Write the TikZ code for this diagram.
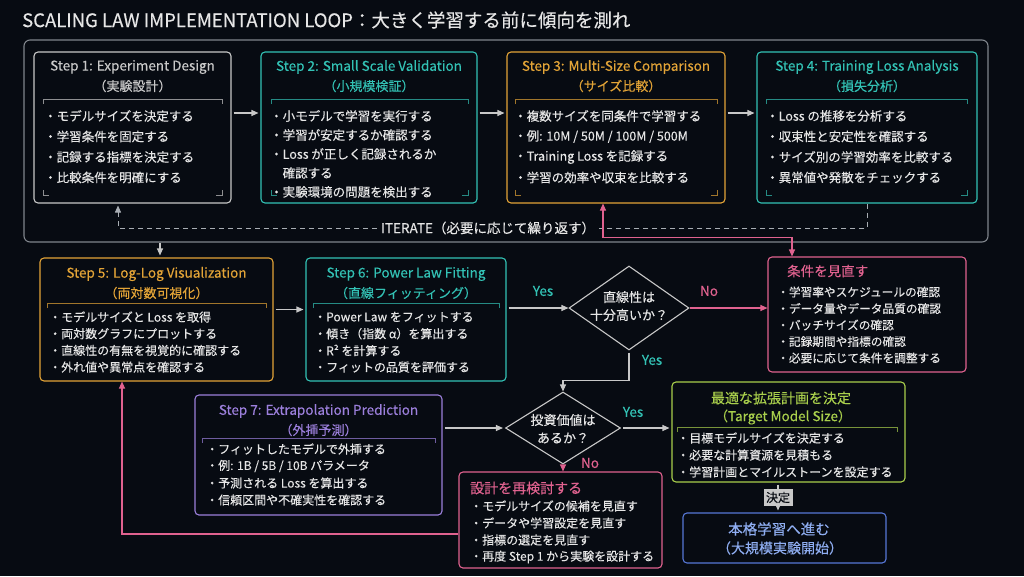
\documentclass[tikz,border=0pt]{standalone}
\usepackage{fontspec}
\setmainfont{Noto Sans CJK JP}[FakeBold=0.25]
\usetikzlibrary{shapes.geometric,arrows.meta}

\definecolor{bg}{HTML}{070B12}
\definecolor{fg}{HTML}{E6E6E6}
\definecolor{greyc}{HTML}{C8C8C8}
\definecolor{framec}{HTML}{80858C}
\definecolor{tealc}{HTML}{33C2B5}
\definecolor{orangec}{HTML}{E3A437}
\definecolor{pinkc}{HTML}{E0628F}
\definecolor{purplec}{HTML}{9B7FDB}
\definecolor{limec}{HTML}{A9CF4C}
\definecolor{bluec}{HTML}{5677D6}
\definecolor{bluet}{HTML}{8FAEF2}
\definecolor{iterc}{HTML}{A8ADB3}

\newcommand{\fsz}[1]{\fontsize{#1pt}{#1pt}\selectfont}
\newcommand{\itemlist}[6][12]{\foreach \itm [count=\i] in {#6} {\node[item, font=\fsz{#1}] (#2-\i) at (#3,{#4+#5*(\i-1)}) {\itm};}}
\newcommand{\topbar}[4]{\draw[bar, draw=#1] (#2,#4+5) -- (#2,#4) -- (#3,#4) -- (#3,#4+5);}
\newcommand{\botbar}[4]{\draw[bar, draw=#1] (#2,#4-5) -- (#2,#4) -- (#2+6,#4); \draw[bar, draw=#1] (#3,#4-5) -- (#3,#4) -- (#3-6,#4);}

\begin{document}
\begin{tikzpicture}[x=1pt, y=-1pt, >={Triangle[length=7pt,width=6pt]},
    card/.style={draw, rounded corners=4pt, line width=1.1pt, inner sep=0pt},
    hd/.style={font=\fsz{13.5}, inner sep=0pt},
    sub/.style={font=\fsz{13}, inner sep=0pt},
    item/.style={anchor=west, inner sep=0pt, text=fg},
    bar/.style={line width=0.8pt, opacity=0.7},
    arr/.style={->, draw=greyc, line width=1.1pt, shorten <=2pt, shorten >=2pt},
    pk/.style={draw=pinkc, line width=1.1pt},
    iter/.style={draw=iterc, dash pattern=on 5pt off 4pt, line width=0.9pt},
    dia/.style={diamond, draw=greyc, line width=1.1pt, inner sep=0pt},
    dtxt/.style={text=fg, font=\fsz{13}, inner sep=0pt},
    yn/.style={font=\fsz{13.5}, inner sep=0pt}]

\fill[bg] (0,0) rectangle (1024,576);
\useasboundingbox (0,0) rectangle (1024,576);

\node[anchor=west, text=fg, font=\fsz{18.5}, inner sep=0pt] (title) at (22,20) {SCALING LAW IMPLEMENTATION LOOP：大きく学習する前に傾向を測れ};

\node[card, draw=framec, rounded corners=6pt, minimum width=964pt, minimum height=202pt] (loop) at (506,141) {};

\node[card, draw=greyc, minimum width=197pt, minimum height=151pt] (s1) at (132.5,127.5) {};
\node[card, draw=tealc, minimum width=216pt, minimum height=151pt] (s2) at (369,127.5) {};
\node[card, draw=orangec, minimum width=218pt, minimum height=151pt] (s3) at (616,127.5) {};
\node[card, draw=tealc, minimum width=220pt, minimum height=151pt] (s4) at (867,127.5) {};

\node[hd, text=greyc] (s1h) at (132.5,67) {Step 1: Experiment Design};
\node[sub, text=greyc] (s1s) at (132.5,86) {（実験設計）};
\node[hd, text=tealc] (s2h) at (369,67) {Step 2: Small Scale Validation};
\node[sub, text=tealc] (s2s) at (369,86) {（小規模検証）};
\node[hd, text=orangec] (s3h) at (616,67) {Step 3: Multi-Size Comparison};
\node[sub, text=orangec] (s3s) at (616,86) {（サイズ比較）};
\node[hd, text=tealc] (s4h) at (867,67) {Step 4: Training Loss Analysis};
\node[sub, text=tealc] (s4s) at (867,86) {（損失分析）};

\topbar{greyc}{43}{222}{99} \botbar{greyc}{43}{222}{195}
\topbar{tealc}{271}{468}{99} \botbar{tealc}{271}{468}{195}
\topbar{orangec}{515}{717}{99} \botbar{orangec}{515}{717}{195}
\topbar{tealc}{766}{967}{99} \botbar{tealc}{766}{967}{195}

\itemlist[12.5]{s1}{44}{116}{20.5}{・モデルサイズを決定する, ・学習条件を固定する, ・記録する指標を決定する, ・比較条件を明確にする}
\itemlist[12.5]{s2}{270}{116}{19}{・小モデルで学習を実行する, ・学習が安定するか確認する, ・Loss が正しく記録されるか, 　確認する, ・実験環境の問題を検出する}
\itemlist[12.5]{s3}{514}{116}{20.5}{・複数サイズを同条件で学習する, ・例: 10M / 50M / 100M / 500M, ・Training Loss を記録する, ・学習の効率や収束を比較する}
\itemlist[12.5]{s4}{766}{116}{20.5}{・Loss の推移を分析する, ・収束性と安定性を確認する, ・サイズ別の学習効率を比較する, ・異常値や発散をチェックする}

\draw[arr] ([yshift=14.5pt]s1.east) -- ([yshift=14.5pt]s2.west);
\draw[arr] ([yshift=14.5pt]s2.east) -- ([yshift=14.5pt]s3.west);
\draw[arr] ([yshift=14.5pt]s3.east) -- ([yshift=14.5pt]s4.west);

\node[text=fg, font=\fsz{13.5}, inner sep=4pt] (iterlbl) at (488,228) {ITERATE（必要に応じて繰り返す）};
\draw[iter] (s4.south) |- (iterlbl.east);
\draw[iter, ->, shorten >=2pt] (iterlbl.west) -| ([xshift=-14.5pt]s1.south);

\node[card, draw=orangec, minimum width=233pt, minimum height=123pt] (s5) at (156.5,319.5) {};
\node[card, draw=tealc, minimum width=200pt, minimum height=123pt] (s6) at (406,319.5) {};
\node[hd, text=orangec] (s5h) at (156.5,274) {Step 5: Log-Log Visualization};
\node[sub, text=orangec] (s5s) at (156.5,293) {（両対数可視化）};
\node[hd, text=tealc] (s6h) at (406,274) {Step 6: Power Law Fitting};
\node[sub, text=tealc] (s6s) at (406,293) {（直線フィッティング）};
\topbar{orangec}{47}{266}{303}
\topbar{tealc}{313}{499}{303}
\itemlist{s5}{49}{317}{16.7}{・モデルサイズと Loss を取得, ・両対数グラフにプロットする, ・直線性の有無を視覚的に確認する, ・外れ値や異常点を確認する}
\itemlist{s6}{314}{317}{16.7}{・Power Law をフィットする, ・傾き（指数 α）を算出する, ・R² を計算する, ・フィットの品質を評価する}

\coordinate (c5) at ([xshift=3.5pt]s5.north);
\draw[arr, shorten <=0pt] (c5 |- loop.south) -- (c5);
\draw[arr] ([yshift=10pt]s5.east) -- ([yshift=10pt]s6.west);

\node[dia, minimum width=120pt, minimum height=84pt] (d1) at (629,308) {};
\node[dtxt] (d1a) at (629,297) {直線性は};
\node[dtxt] (d1b) at (629,315) {十分高いか？};

\node[card, draw=pinkc, minimum width=198pt, minimum height=115pt] (cond) at (867,314.5) {};
\node[anchor=west, text=pinkc, font=\fsz{13.5}, inner sep=0pt] (condh) at (787,271) {条件を見直す};
\itemlist[11.7]{cond}{777}{292}{16.5}{・学習率やスケジュールの確認, ・データ量やデータ品質の確認, ・バッチサイズの確認, ・記録期間や指標の確認, ・必要に応じて条件を調整する}

\draw[arr, shorten >=0pt] (d1.west -| s6.east) -- (d1.west);
\node[yn, text=tealc] (y1) at (543,291) {Yes};
\draw[pk, ->] (d1.east) -- (d1.east -| cond.west);
\node[yn, text=pinkc] (n1) at (709,291) {No};
\draw[pk, <->] ([xshift=-13pt]s3.south) |- ([xshift=-75pt,yshift=19pt]cond.north) -- ([xshift=-75pt]cond.north);

\node[card, draw=purplec, minimum width=247pt, minimum height=120pt] (s7) at (318.5,455) {};
\node[hd, text=purplec] (s7h) at (318.5,411) {Step 7: Extrapolation Prediction};
\node[sub, text=purplec] (s7s) at (318.5,430) {（外挿予測）};
\topbar{purplec}{202}{435}{438}
\itemlist{s7}{206}{449}{17}{・フィットしたモデルで外挿する, ・例: 1B / 5B / 10B パラメータ, ・予測される Loss を算出する, ・信頼区間や不確実性を確認する}

\node[dia, minimum width=115pt, minimum height=72pt] (d2) at (563,428) {};
\node[dtxt] (d2a) at (563,420) {投資価値は};
\node[dtxt] (d2b) at (563,438) {あるか？};

\draw[arr, shorten >=0pt] (d1.south) -- ++(0,30) -| (d2.north);
\node[yn, text=tealc] (y2) at (652,360) {Yes};
\draw[arr] (d2.west -| s7.east) -- (d2.west);

\node[card, draw=pinkc, minimum width=203pt, minimum height=96pt] (rd) at (560.5,520) {};
\node[anchor=west, text=pinkc, font=\fsz{14}, inner sep=0pt] (rdh) at (470,488) {設計を再検討する};
\itemlist{rd}{470}{506}{17}{・モデルサイズの候補を見直す, ・データや学習設定を見直す, ・指標の選定を見直す, ・再度 Step 1 から実験を設計する}
\draw[pk, ->] (d2.south) -- (d2.south |- rd.north);
\node[yn, text=pinkc] (n2) at (590,463) {No};
\draw[pk, ->] ([yshift=-14pt]rd.west) -| ([xshift=-34.5pt]s5.south);

\node[card, draw=limec, minimum width=233pt, minimum height=100pt] (opt) at (788.5,432) {};
\node[text=limec, font=\fsz{14}, inner sep=0pt] (opth) at (781,398) {最適な拡張計画を決定};
\node[text=limec, font=\fsz{13.5}, inner sep=0pt] (opts) at (783,417) {（Target Model Size）};
\topbar{limec}{677}{897}{427}
\itemlist{opt}{677}{438}{17}{・目標モデルサイズを決定する, ・必要な計算資源を見積もる, ・学習計画とマイルストーンを設定する}
\draw[arr] (d2.east) -- (d2.east -| opt.west);
\node[yn, text=tealc] (y3) at (633,412) {Yes};

\node[card, draw=bluec, minimum width=203pt, minimum height=50pt] (fin) at (784.5,538) {};
\node[text=bluet, font=\fsz{14.5}, inner sep=0pt] (fina) at (779,529) {本格学習へ進む};
\node[text=bluet, font=\fsz{14}, inner sep=0pt] (finb) at (780,548) {（大規模実験開始）};
\draw[arr] ([xshift=-10.5pt]opt.south) -- ([xshift=-6.5pt]fin.north)
  node[midway, fill=greyc, text=bg, font=\fsz{12}, inner sep=2.5pt] (dec) {決定};
\end{tikzpicture}
\end{document}
